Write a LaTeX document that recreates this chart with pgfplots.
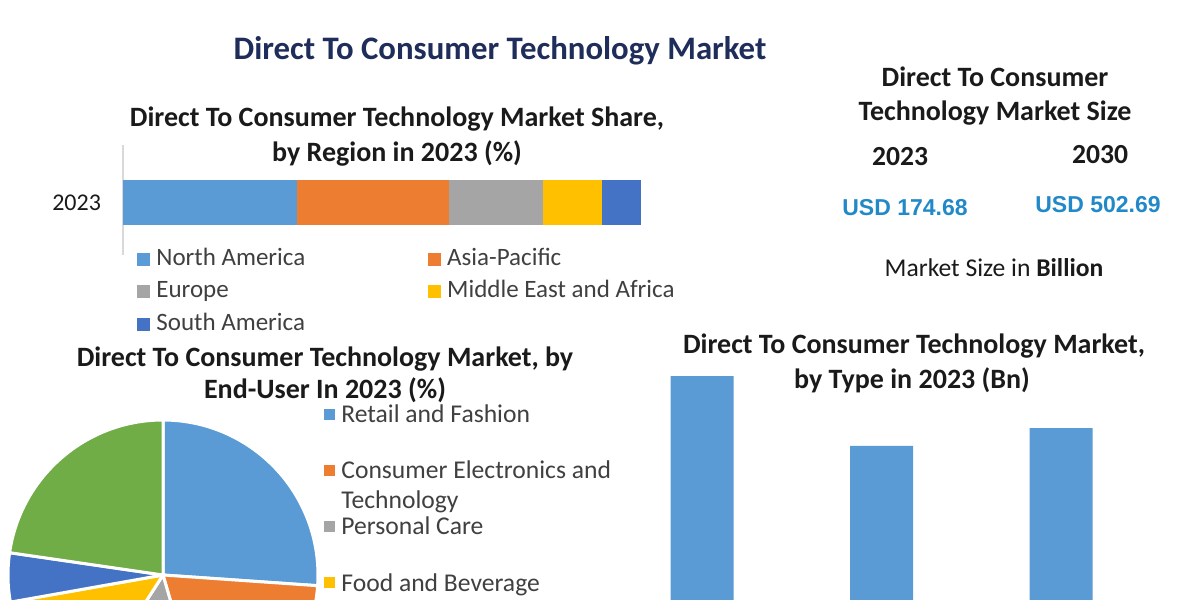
\documentclass[border=0pt]{standalone}
\usepackage{fontspec}
\setmainfont{Carlito}
\newfontfamily\arialfont{Liberation Sans}
\usepackage{pgfplots}
\pgfplotsset{compat=1.18}

\definecolor{cBlue}{HTML}{5B9BD5}
\definecolor{cOrange}{HTML}{ED7D31}
\definecolor{cGray}{HTML}{A5A5A5}
\definecolor{cYellow}{HTML}{FFC000}
\definecolor{cDBlue}{HTML}{4472C4}
\definecolor{cGreen}{HTML}{70AD47}
\definecolor{cTitle}{HTML}{1F2D5A}
\definecolor{cDark}{HTML}{1A1A1A}
\definecolor{cLegend}{HTML}{404040}
\definecolor{cUSD}{HTML}{2289C8}

\begin{document}
% page is 600pt x 300pt: 1pt = 2 px of the 1200x600 reference
\begin{tikzpicture}
\path[use as bounding box] (0pt,0pt) rectangle (600pt,300pt);
\clip (0pt,0pt) rectangle (600pt,300pt);
\fill[white] (0pt,0pt) rectangle (600pt,300pt);

% ---- titles and text blocks (scope in reference pixels) ----
\begin{scope}[x=0.5pt,y=0.5pt]
\node[anchor=base, font=\bfseries\fontsize{16.4}{20}\selectfont, text=cTitle] at (500,540) {Direct To Consumer Technology Market};

\node[anchor=base, font=\bfseries\fontsize{14}{17}\selectfont, text=cDark] at (397,473.5) {Direct To Consumer Technology Market Share,};
\node[anchor=base, font=\bfseries\fontsize{14}{17}\selectfont, text=cDark] at (397,438.5) {by Region in 2023 (\%)};

\node[anchor=base, font=\bfseries\fontsize{14}{17}\selectfont, text=cDark] at (995,513.5) {Direct To Consumer};
\node[anchor=base, font=\bfseries\fontsize{14}{17}\selectfont, text=cDark] at (995,479.5) {Technology Market Size};
\node[anchor=base, font=\bfseries\fontsize{13.8}{17}\selectfont, text=cDark] at (900,434.5) {2023};
\node[anchor=base, font=\bfseries\fontsize{13.8}{17}\selectfont, text=cDark] at (1100,436.5) {2030};
\node[anchor=base, font=\arialfont\bfseries\fontsize{11.5}{14}\selectfont, text=cUSD] at (905,384) {USD 174.68};
\node[anchor=base, font=\arialfont\bfseries\fontsize{11.5}{14}\selectfont, text=cUSD] at (1098,387) {USD 502.69};
\node[anchor=base, font=\fontsize{12.8}{15}\selectfont, text=cDark] at (994,323) {Market Size in \textbf{Billion}};

\node[anchor=base, font=\bfseries\fontsize{14}{17}\selectfont, text=cDark] at (325,233.5) {Direct To Consumer Technology Market, by};
\node[anchor=base, font=\bfseries\fontsize{14}{17}\selectfont, text=cDark] at (325,201.5) {End-User In 2023 (\%)};

\node[anchor=base, font=\bfseries\fontsize{14}{17}\selectfont, text=cDark] at (914,246.5) {Direct To Consumer Technology Market,};
\node[anchor=base, font=\bfseries\fontsize{14}{17}\selectfont, text=cDark] at (912,211.5) {by Type in 2023 (Bn)};

% pie legend
\begin{scope}[font=\fontsize{12.8}{15}\selectfont, text=cLegend]
\fill[cBlue]   (324,179.5) rectangle (335,190.5);
\node[anchor=base west, inner sep=0pt] at (341,177) {Retail and Fashion};
\fill[cOrange] (324,123.5) rectangle (335,134.5);
\node[anchor=base west, inner sep=0pt] at (341,121) {Consumer Electronics and};
\node[anchor=base west, inner sep=0pt] at (341,91) {Technology};
\fill[cGray]   (324,67.5) rectangle (335,78.5);
\node[anchor=base west, inner sep=0pt] at (341,65) {Personal Care};
\fill[cYellow] (324,11.5) rectangle (335,22.5);
\node[anchor=base west, inner sep=0pt] at (341,9) {Food and Beverage};
\end{scope}
\end{scope}

% ---- market share by region (stacked bar) ----
\begin{axis}[
  at={(61.5pt,172.5pt)}, anchor=south west,
  scale only axis, width=259pt, height=55pt,
  xbar stacked, bar width=22.5pt,
  xmin=0, xmax=100, ymin=-52.5, ymax=57.5,
  axis x line=none, axis y line=left,
  y axis line style={-, draw=black!15, line width=0.6pt},
  xtick=\empty, ytick={0}, yticklabels={2023},
  major tick length=0pt,
  yticklabel style={font=\fontsize{12}{14}\selectfont, text=cDark, xshift=-7.5pt},
  legend columns=2, legend cell align=left,
  legend image code/.code={\fill[#1] (0pt,-3.25pt) rectangle (6.5pt,3.25pt);},
  legend style={at={(0.027,0.0725)}, anchor=north west, draw=none, fill=none,
    inner sep=0pt, row sep=4.25pt,
    font=\fontsize{12.5}{15}\selectfont,
    nodes={inner sep=0pt, inner xsep=3pt, text height=9pt, text depth=3pt, text=cLegend},
    /tikz/every even column/.append style={column sep=58.5pt}},
]
\addplot[fill=cBlue, draw=none] coordinates {(33.5,0)};
\addplot[fill=cOrange, draw=none] coordinates {(29.4,0)};
\addplot[fill=cGray, draw=none] coordinates {(18.2,0)};
\addplot[fill=cYellow, draw=none] coordinates {(11.4,0)};
\addplot[fill=cDBlue, draw=none] coordinates {(7.5,0)};
\legend{North America, Asia-Pacific, Europe, Middle East and Africa, South America}
\end{axis}

% ---- market by end-user (pie, centre at the axis origin) ----
\begin{axis}[
  at={(0pt,0pt)}, anchor=south west,
  x=0.5pt, y=0.5pt,
  xmin=-163, xmax=163, ymin=-25, ymax=160,
  hide axis, clip=false,
]
\xdef\angA{90}
\foreach \v/\c in {26.1/cBlue, 19.4/cOrange, 13.6/cGray, 13.1/cYellow, 5.1/cDBlue, 22.7/cGreen}{
  \pgfmathsetmacro\angB{\angA-3.6*\v}
  \pgfmathsetmacro\px{155*cos(\angA)}
  \pgfmathsetmacro\py{155*sin(\angA)}
  \edef\temp{\noexpand\filldraw[fill=\c, draw=white, line width=1.5pt, line join=round]
    (axis cs:0,0) -- (axis cs:\px,\py) arc[start angle=\angA, end angle=\angB, radius=77.5pt] -- cycle;}
  \temp
  \xdef\angA{\angB}
}
\end{axis}

% ---- market by type (bars, cut by the lower edge) ----
\begin{axis}[
  at={(306.125pt,-5pt)}, anchor=south west,
  scale only axis, width=269.25pt, height=117pt,
  xmin=-0.5, xmax=2.5, ymin=0, ymax=70,
  ybar, bar width=31.5pt,
  hide axis, clip=false,
]
\addplot[fill=cBlue, draw=none] coordinates {(0,70) (1,49.1) (2,54.4)};
\end{axis}
\end{tikzpicture}
\end{document}
